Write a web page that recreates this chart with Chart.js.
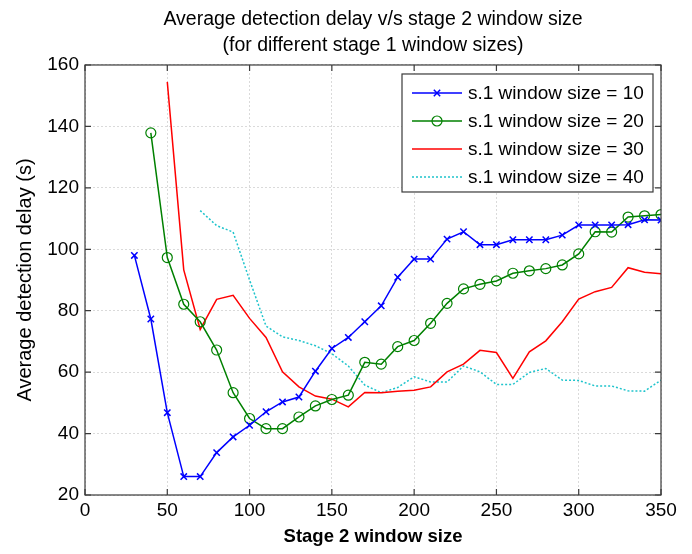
<!DOCTYPE html>
<html>
<head>
<meta charset="utf-8">
<script src="https://cdn.jsdelivr.net/npm/chart.js@4/dist/chart.umd.min.js"></script>
<style>
  body { margin: 0; background: #fff; }
  canvas { display: block; }
</style>
</head>
<body>
<canvas id="grafico" width="692" height="554"></canvas>
<script>
// Datos
const x10 = [30, 40, 50, 60, 70, 80, 90, 100, 110, 120, 130, 140, 150, 160, 170, 180, 190, 200, 210, 220, 230, 240, 250, 260, 270, 280, 290, 300, 310, 320, 330, 340, 350];
const y10 = [98, 77.3, 46.8, 26, 26, 33.8, 38.9, 42.7, 47.1, 50.3, 51.9, 60.3, 67.7, 71.3, 76.4, 81.6, 90.9, 96.8, 96.8, 103.3, 105.7, 101.5, 101.5, 103.1, 103.1, 103.1, 104.6, 107.9, 107.9, 107.9, 108, 109.6, 109.5];

const x20 = [40, 50, 60, 70, 80, 90, 100, 110, 120, 130, 140, 150, 160, 170, 180, 190, 200, 210, 220, 230, 240, 250, 260, 270, 280, 290, 300, 310, 320, 330, 340, 350];
const y20 = [137.9, 97.3, 82.1, 76.4, 67.2, 53.3, 44.9, 41.6, 41.6, 45.4, 49, 51.1, 52.5, 63.2, 62.6, 68.3, 70.3, 75.9, 82.4, 87.1, 88.6, 89.7, 92.2, 93, 93.7, 94.9, 98.5, 105.7, 105.6, 110.5, 110.9, 111.3];

const x30 = [50, 60, 70, 80, 90, 100, 110, 120, 130, 140, 150, 160, 170, 180, 190, 200, 210, 220, 230, 240, 250, 260, 270, 280, 290, 300, 310, 320, 330, 340, 350];
const y30 = [154.5, 93.3, 73.9, 83.7, 85, 77.5, 71.3, 60.1, 55.2, 52.2, 51.2, 48.7, 53.4, 53.3, 53.8, 54.1, 55.2, 60.1, 62.6, 67.1, 66.4, 58, 66.6, 70.2, 76.4, 83.8, 86.2, 87.6, 94, 92.5, 92];

const x40 = [70, 80, 90, 100, 110, 120, 130, 140, 150, 160, 170, 180, 190, 200, 210, 220, 230, 240, 250, 260, 270, 280, 290, 300, 310, 320, 330, 340, 350];
const y40 = [112.6, 107.7, 105.6, 90, 75, 71.5, 70.3, 68.6, 66, 62, 55.8, 53.3, 55, 58.5, 56.8, 56.8, 62, 60.1, 56, 56, 59.9, 61.2, 57.4, 57.3, 55.5, 55.5, 53.9, 53.8, 57.4];

const etiquetas = ['s.1 window size = 10', 's.1 window size = 20', 's.1 window size = 30', 's.1 window size = 40'];
const tituloGrafico = ['Average detection delay v/s stage 2 window size', '(for different stage 1 window sizes)'];
const tituloX = 'Stage 2 window size';
const tituloY = 'Average detection delay (s)';

const fuente = '"Liberation Sans", Arial, sans-serif';

function puntos(xs, ys) {
    return xs.map((x, i) => ({ x: x, y: ys[i] }));
}

// Marco con marcas hacia dentro (estilo MATLAB)
const marco = {
    id: 'marco',
    afterDatasetsDraw(chart) {
        const { ctx, chartArea, scales } = chart;
        const { left, right, top, bottom } = chartArea;
        ctx.save();
        ctx.strokeStyle = '#3a3a3a';
        ctx.lineWidth = 1.2;
        ctx.strokeRect(left, top, right - left, bottom - top);
        ctx.beginPath();
        scales.x.ticks.forEach(t => {
            const px = scales.x.getPixelForValue(t.value);
            ctx.moveTo(px, bottom); ctx.lineTo(px, bottom - 6);
            ctx.moveTo(px, top); ctx.lineTo(px, top + 6);
        });
        scales.y.ticks.forEach(t => {
            const py = scales.y.getPixelForValue(t.value);
            ctx.moveTo(left, py); ctx.lineTo(left + 6, py);
            ctx.moveTo(right, py); ctx.lineTo(right - 6, py);
        });
        ctx.stroke();
        ctx.restore();
    }
};

// Leyenda dentro del area del grafico
const leyenda = {
    id: 'leyenda',
    afterDraw(chart) {
        const { ctx, chartArea } = chart;
        const x0 = chartArea.right - 259;
        const y0 = chartArea.top + 9;
        const w = 251, h = 118;
        ctx.save();
        ctx.fillStyle = '#fff';
        ctx.fillRect(x0, y0, w, h);
        ctx.strokeStyle = '#3a3a3a';
        ctx.lineWidth = 1.2;
        ctx.strokeRect(x0, y0, w, h);
        chart.data.datasets.forEach((ds, i) => {
            const y = y0 + 19 + i * 28;
            ctx.save();
            ctx.strokeStyle = ds.borderColor;
            ctx.lineWidth = ds.borderWidth;
            ctx.setLineDash(ds.borderDash || []);
            ctx.beginPath();
            ctx.moveTo(x0 + 10, y);
            ctx.lineTo(x0 + 60, y);
            ctx.stroke();
            ctx.restore();
            if (ds.pointRadius > 0) {
                ctx.save();
                ctx.strokeStyle = ds.borderColor;
                ctx.fillStyle = 'rgba(0,0,0,0)';
                ctx.lineWidth = ds.pointBorderWidth;
                Chart.helpers.drawPoint(ctx, {
                    pointStyle: ds.pointStyle,
                    radius: ds.pointRadius,
                    rotation: 0,
                    borderWidth: ds.pointBorderWidth
                }, x0 + 35, y);
                ctx.restore();
            }
            ctx.fillStyle = '#000';
            ctx.font = '19px ' + fuente;
            ctx.textBaseline = 'middle';
            ctx.textAlign = 'left';
            ctx.fillText(etiquetas[i], x0 + 66, y + 1);
        });
        ctx.restore();
    }
};

new Chart(document.getElementById('grafico'), {
    type: 'line',
    data: {
        datasets: [
            {
                label: etiquetas[0],
                data: puntos(x10, y10),
                borderColor: '#0000ff',
                borderWidth: 1.5,
                pointStyle: 'crossRot',
                pointRadius: 4.5,
                pointBorderWidth: 1.5,
                pointBorderColor: '#0000ff',
                pointBackgroundColor: 'rgba(0,0,0,0)'
            },
            {
                label: etiquetas[1],
                data: puntos(x20, y20),
                borderColor: '#008000',
                borderWidth: 1.5,
                pointStyle: 'circle',
                pointRadius: 5,
                pointBorderWidth: 1.2,
                pointBorderColor: '#008000',
                pointBackgroundColor: 'rgba(0,0,0,0)'
            },
            {
                label: etiquetas[2],
                data: puntos(x30, y30),
                borderColor: '#ff0000',
                borderWidth: 1.5,
                pointRadius: 0
            },
            {
                label: etiquetas[3],
                data: puntos(x40, y40),
                borderColor: '#1fc4cc',
                borderWidth: 1.5,
                borderDash: [2, 2],
                pointRadius: 0
            }
        ]
    },
    options: {
        responsive: false,
        animation: false,
        layout: { padding: { left: 0, right: 31, top: 0, bottom: 0 } },
        plugins: {
            legend: { display: false },
            tooltip: { enabled: false },
            title: {
                display: true,
                fullSize: false,
                text: tituloGrafico,
                color: '#000',
                font: { family: fuente, size: 19.5, weight: 'normal', lineHeight: 1.333 },
                padding: { top: 7, bottom: 6 }
            }
        },
        scales: {
            x: {
                type: 'linear',
                min: 0,
                max: 350,
                afterFit(scale) { scale.height = 59; },
                ticks: { stepSize: 50, color: '#000', padding: 4, font: { family: fuente, size: 19 } },
                grid: { color: '#dadada', drawTicks: false, lineWidth: 1 },
                border: { display: false, dash: [2, 2] },
                title: {
                    display: true,
                    text: tituloX,
                    color: '#000',
                    font: { family: fuente, size: 18.5, weight: 'bold' },
                    padding: { top: 0, bottom: 6 }
                }
            },
            y: {
                min: 20,
                max: 160,
                afterFit(scale) { scale.width = 85; },
                ticks: { stepSize: 20, color: '#000', padding: 6, font: { family: fuente, size: 19 } },
                grid: { color: '#dadada', drawTicks: false, lineWidth: 1 },
                border: { display: false, dash: [2, 2] },
                title: {
                    display: true,
                    text: tituloY,
                    color: '#000',
                    font: { family: fuente, size: 20, weight: 'normal' },
                    padding: { top: 13, bottom: 0 }
                }
            }
        }
    },
    plugins: [marco, leyenda]
});
</script>
</body>
</html>
